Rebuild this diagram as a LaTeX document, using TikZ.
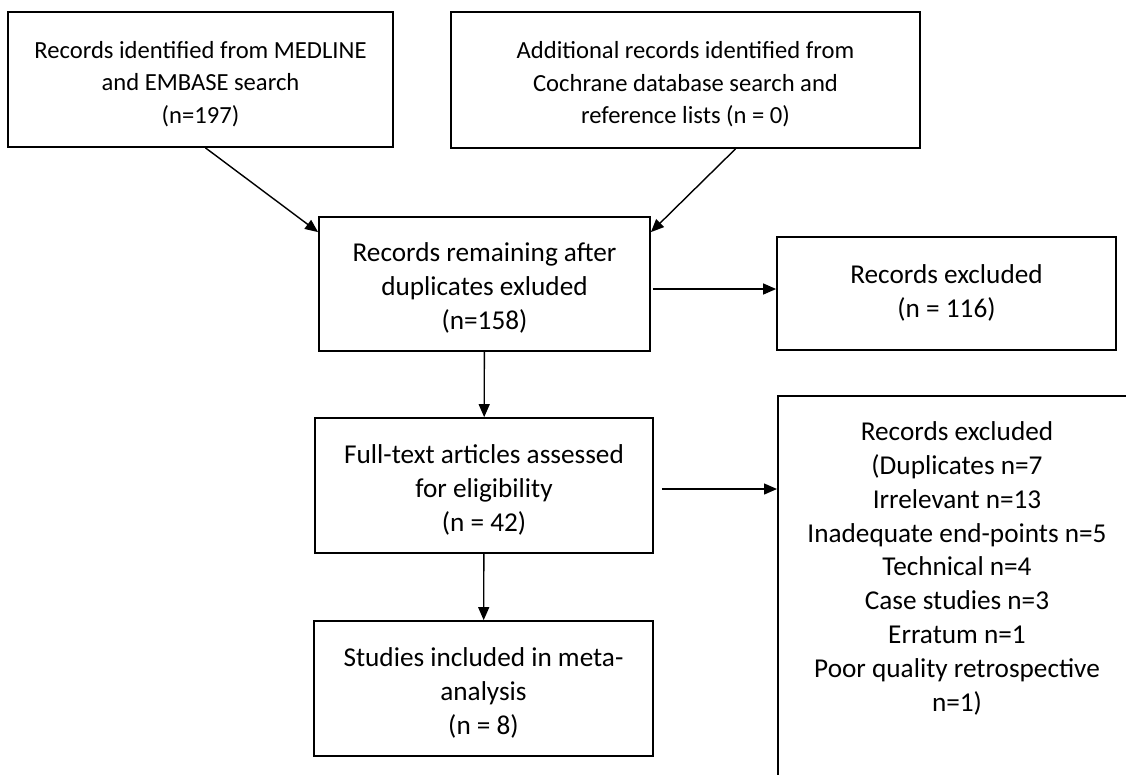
\documentclass[tikz,border=0pt]{standalone}
\usepackage{fontspec}
\setmainfont{Carlito}
\usetikzlibrary{arrows.meta}

\tikzset{
  flowbox/.style={draw, line width=1pt, align=center, inner sep=0pt, text height=54.4pt,
    font=\fontsize{15.5}{19.4}\selectfont},
  topbox/.style={flowbox, text height=52pt, font=\fontsize{14}{18.5}\selectfont},
  flowarrow/.style={line width=0.8pt, -{Triangle[length=2.6mm,width=2.2mm]}}
}

\begin{document}
\begin{tikzpicture}[x=0.2mm,y=-0.2mm]
\useasboundingbox (0,0) rectangle (1126,774);
\clip (0,0) rectangle (1126,774);

\node[topbox, minimum width=77mm, minimum height=27mm] (ident) at (200.5,79.5)
  {Records identified from MEDLINE\\and EMBASE search\\(n=197)};
\node[topbox, minimum width=93.8mm, minimum height=27.2mm] (extra) at (685.5,80)
  {Additional records identified from\\Cochrane database search and\\reference lists (n = 0)};
\node[flowbox, minimum width=66.2mm, minimum height=26.8mm] (remain) at (484.5,284)
  {Records remaining after\\duplicates exluded\\(n=158)};
\node[flowbox, text height=30pt, minimum width=67.8mm, minimum height=22.6mm] (excl) at (946.5,293.5)
  {Records excluded\\(n = 116)};
\node[flowbox, minimum width=67.6mm, minimum height=27mm] (fulltext) at (484,485.5)
  {Full-text articles assessed\\for eligibility\\(n = 42)};
\node[flowbox, minimum width=67.8mm, minimum height=27mm] (incl) at (483.5,688.5)
  {Studies included in meta-\\analysis\\(n = 8)};
\node[draw, line width=1pt, minimum width=72mm, minimum height=84mm, anchor=north west] (exclft) at (777,395) {};
\node[align=center, inner sep=0pt, anchor=north, font=\fontsize{15.5}{19.3}\selectfont] (exclfttxt) at (957,421)
  {Records excluded\\(Duplicates n=7\\Irrelevant n=13\\Inadequate end-points n=5\\Technical n=4\\Case studies n=3\\Erratum n=1\\Poor quality retrospective\\n=1)};

\draw[flowarrow] ([xshift=1mm]ident.south) -- ([yshift=-3.2mm]remain.north west);
\draw[flowarrow] ([xshift=10mm]extra.south) -- ([yshift=-3.2mm]remain.north east);
\draw[flowarrow] ([shift={(0.4mm,-1mm)}]remain.east) -- ([yshift=-1mm]remain.east -| excl.west);
\draw[flowarrow] (remain) -- (fulltext);
\draw[flowarrow] ([shift={(1.6mm,-0.7mm)}]fulltext.east) -- ([yshift=-0.7mm]fulltext.east -| exclft.west);
\draw[flowarrow] (fulltext) -- (incl);
\end{tikzpicture}
\end{document}
